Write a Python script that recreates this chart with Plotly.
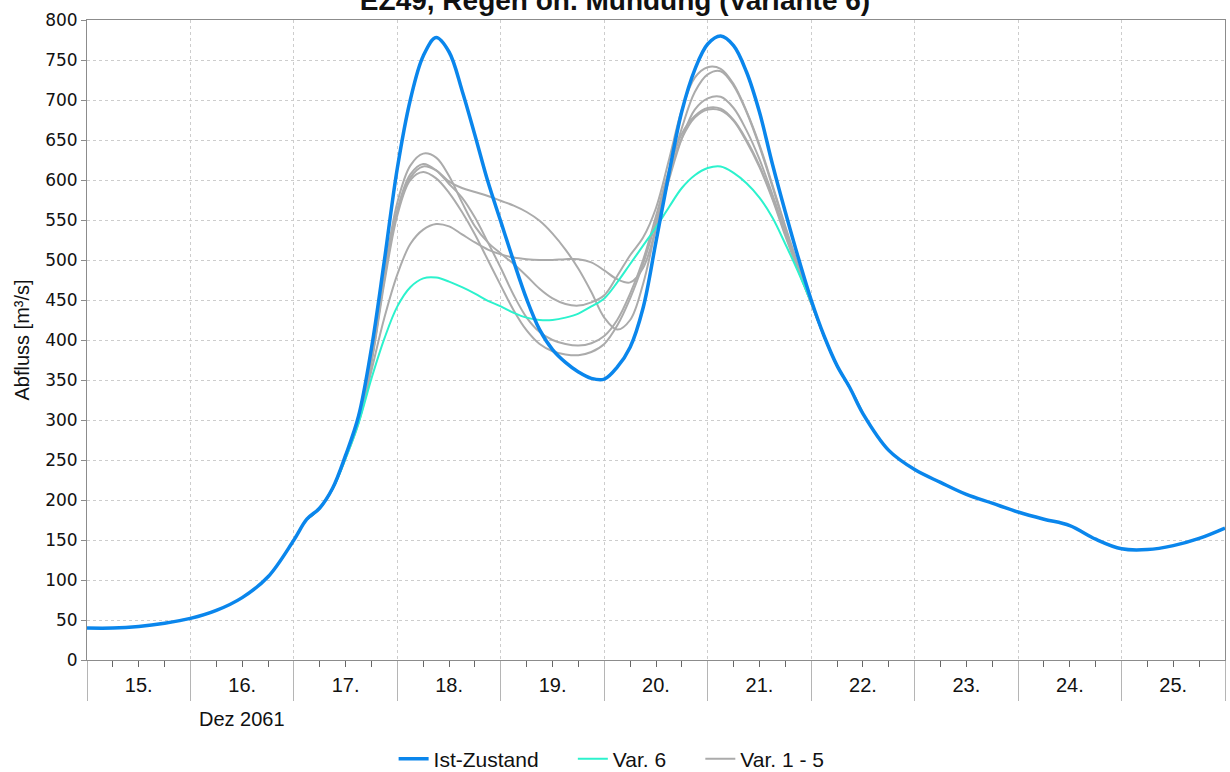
import pandas as pd
import plotly.graph_objects as go

# time axis: 6-hourly at the edges, 3-hourly through the flood waves
t_early = pd.date_range("2061-12-15 00:00", "2061-12-17 00:00", freq="6h")
t_mid = pd.date_range("2061-12-17 03:00", "2061-12-22 12:00", freq="3h")
t_late = pd.date_range("2061-12-22 18:00", "2061-12-26 00:00", freq="6h")
t_all = t_early.append(t_mid).append(t_late)

ist_early = [40, 40, 42, 46, 52, 62, 78, 104, 150]
ist_mid = [176, 190, 215, 256, 305, 390, 500, 615,
           700, 755, 778, 760, 712, 656, 598, 548,
           498, 451, 413, 388, 372, 360, 352, 351,
           366, 391, 440, 523, 608, 686, 738, 770,
           780, 768, 735, 685, 620, 560, 503, 450,
           405, 368, 340, 308]
ist_late = [262, 238, 222, 207, 196, 185, 176, 168, 151, 139, 138, 143, 152, 165]
ist = ist_early + ist_mid + ist_late

var6 = [176, 190, 214, 252, 296, 352, 402, 442,
        466, 477, 478, 473, 466, 458, 449, 442,
        434, 428, 425, 425, 428, 433, 442, 452,
        472, 495, 518, 541, 566, 590, 606, 615,
        617, 609, 596, 578, 553, 520, 485, 447,
        405, 368, 340, 308]

var1 = [176, 190, 215, 254, 300, 375, 478, 560,
        603, 617, 612, 598, 590, 585, 580, 574,
        568, 560, 549, 533, 513, 489, 460, 428,
        413, 425, 470, 540, 610, 665, 710, 732,
        736, 718, 685, 642, 592, 540, 492, 446,
        405, 368, 340, 308]
var2 = [176, 190, 214, 252, 296, 362, 428, 482,
        520, 538, 545, 542, 532, 522, 513, 507,
        503, 501, 500, 500, 501, 501, 497, 487,
        476, 472, 490, 540, 600, 652, 688, 702,
        704, 690, 662, 626, 582, 535, 490, 446,
        405, 368, 340, 308]
var3 = [176, 190, 215, 254, 300, 378, 485, 572,
        618, 633, 628, 605, 572, 542, 522, 508,
        495, 480, 464, 452, 445, 443, 447, 456,
        480, 506, 528, 565, 625, 688, 728, 741,
        739, 720, 686, 644, 594, 542, 493, 447,
        405, 368, 340, 308]
var4 = [176, 190, 215, 254, 300, 374, 477, 563,
        607, 620, 612, 595, 578, 553, 522, 490,
        456, 428, 410, 400, 395, 393, 396, 405,
        425, 458, 500, 555, 612, 658, 680, 690,
        689, 675, 650, 618, 578, 532, 488, 446,
        404, 368, 340, 308]
var5 = [176, 190, 215, 254, 300, 372, 472, 556,
        600, 610, 602, 584, 560, 532, 500, 468,
        437, 412, 395, 386, 382, 381, 385, 395,
        418, 452, 495, 548, 605, 652, 678, 688,
        687, 674, 648, 616, 576, 530, 487, 446,
        404, 368, 340, 308]
var_1_5 = [var1, var2, var3, var4, var5]

nb = "\u00a0" * 5  # extra space between legend entries

fig = go.Figure()
for i, v in enumerate(var_1_5):
    fig.add_trace(go.Scatter(x=t_mid, y=v, mode="lines", line_shape="spline",
                             line=dict(color="#ababab", width=2),
                             name="Var. 1 - 5", legendgroup="v15",
                             showlegend=(i == 0), legendrank=3))
fig.add_trace(go.Scatter(x=t_mid, y=var6, mode="lines", line_shape="spline",
                         line=dict(color="#2cf2cd", width=2),
                         name="Var. 6" + nb, legendrank=2))
fig.add_trace(go.Scatter(x=t_all, y=ist, mode="lines", line_shape="spline",
                         line=dict(color="#0a86ec", width=3.5),
                         name="Ist-Zustand" + nb, legendrank=1))

fig.update_layout(
    width=1230, height=772,
    paper_bgcolor="white", plot_bgcolor="white",
    margin=dict(l=87, r=5, t=20, b=112, autoexpand=False),
    font=dict(family="Liberation Sans", color="#111"),
    title=dict(text="<b>EZ49, Regen oh. Mündung (Variante 6)</b>",
               x=0.5, xanchor="center", xref="container",
               y=1.0, yanchor="middle", yref="container",
               font=dict(size=28, color="#111")),
    legend=dict(orientation="h", x=0.461, xanchor="center",
                y=-0.155, yanchor="middle", yref="paper",
                font=dict(size=21), traceorder="normal"),
    showlegend=True,
)
fig.update_xaxes(
    type="date", range=["2061-12-15", "2061-12-26"], automargin=False,
    tick0="2061-12-15", dtick=86400000, tickformat="%d.",
    ticklabelmode="period", ticks="outside", ticklen=40,
    tickcolor="#b5b5b5", tickwidth=1, ticklabelstandoff=-33,
    tickfont=dict(size=20),
    minor=dict(dtick=6 * 3600000, ticks="outside", ticklen=6,
               tickcolor="#666", showgrid=False),
    showgrid=True, gridcolor="#cdcdcd", griddash="3px,3px", gridwidth=1,
    showline=True, linecolor="#8c8c8c", linewidth=1, mirror=True,
    zeroline=False,
)
fig.update_yaxes(
    range=[0, 800], dtick=50, ticks="outside", ticklen=5, automargin=False,
    tickcolor="#8c8c8c", tickfont=dict(family="DejaVu Sans", size=17),
    showgrid=True, gridcolor="#cdcdcd", griddash="3px,3px", gridwidth=1,
    showline=True, linecolor="#8c8c8c", linewidth=1, mirror=True,
    zeroline=False,
    title=dict(text="Abfluss [m³/s]", font=dict(size=20), standoff=10),
)
fig.add_annotation(text="Dez 2061", x="2061-12-16 12:00", xref="x",
                   y=0, yref="paper", yanchor="middle", yshift=-59,
                   showarrow=False, font=dict(size=20))

# drop the default page margin so the figure fills the window exactly
fig.write_html("out.html", config={"displayModeBar": False},
               post_script="document.body.style.margin='0';"
                           "document.body.style.overflow='hidden';")
